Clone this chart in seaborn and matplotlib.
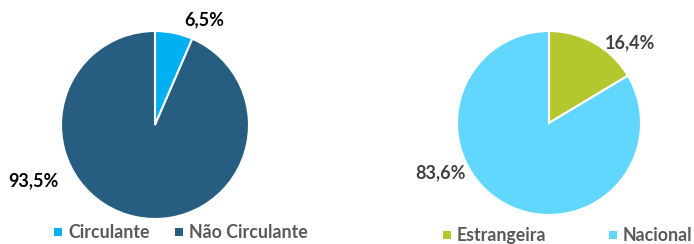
import matplotlib
matplotlib.use('Agg')
import matplotlib.pyplot as plt
import seaborn as sns
from matplotlib.patches import Rectangle

# data
left_labels = ['Circulante', 'Não Circulante']
left_values = [6.5, 93.5]
left_colors = ['#00B0F0', '#265D80']

right_labels = ['Estrangeira', 'Nacional']
right_values = [16.4, 83.6]
right_colors = ['#B4C72E', '#61D6FF']

sns.set_theme(style='white')
plt.rcParams['font.family'] = ['Lato', 'DejaVu Sans']

fig = plt.figure(figsize=(6.94, 2.44), dpi=100)
W, H = 694, 244


def pie_axes(cx, cy, r):
    # cx, cy, r in pixels (y from top)
    ax = fig.add_axes([(cx - r) / W, (H - cy - r) / H, 2 * r / W, 2 * r / H])
    ax.set_axis_off()
    return ax


def fmt(v):
    return f'{v:.1f}'.replace('.', ',') + '%'


def legend_entry(color, label, x, baseline):
    # square marker + text on a shared baseline (pixels from top-left)
    fig.patches.append(Rectangle((x / W, (H - baseline + 2) / H), 8 / W, 8 / H,
                                 transform=fig.transFigure, facecolor=color,
                                 edgecolor='none'))
    fig.text((x + 14) / W, (H - baseline) / H, label, ha='left', va='baseline',
             fontsize=12.8, fontweight='bold', color='#595959')


# left pie
ax1 = pie_axes(155, 125, 94)
ax1.pie(left_values, colors=left_colors, startangle=90, counterclock=False,
        radius=1, wedgeprops=dict(edgecolor='white', linewidth=1.5))
ax1.set_xlim(-1, 1)
ax1.set_ylim(-1, 1)
label_pos_left = [(0.52, 1.12), (-1.29, -0.59)]
for v, (x, y) in zip(left_values, label_pos_left):
    ax1.text(x, y, fmt(v), ha='center', va='center', fontsize=13,
             fontweight='bold', color='#000000', clip_on=False)

# right pie
ax2 = pie_axes(549, 123, 92)
ax2.pie(right_values, colors=right_colors, startangle=90, counterclock=False,
        radius=1, wedgeprops=dict(edgecolor='white', linewidth=1.5))
ax2.set_xlim(-1, 1)
ax2.set_ylim(-1, 1)
label_pos_right = [(0.88, 0.87), (-1.18, -0.54)]
for v, (x, y) in zip(right_values, label_pos_right):
    ax2.text(x, y, fmt(v), ha='center', va='center', fontsize=13,
             fontweight='bold', color='#404040', clip_on=False)

# legends
for c, lab, x in zip(left_colors, left_labels, [54, 175]):
    legend_entry(c, lab, x, 238)
for c, lab, x in zip(right_colors, right_labels, [443, 609]):
    legend_entry(c, lab, x, 241)

fig.savefig('out.png', dpi=100)
